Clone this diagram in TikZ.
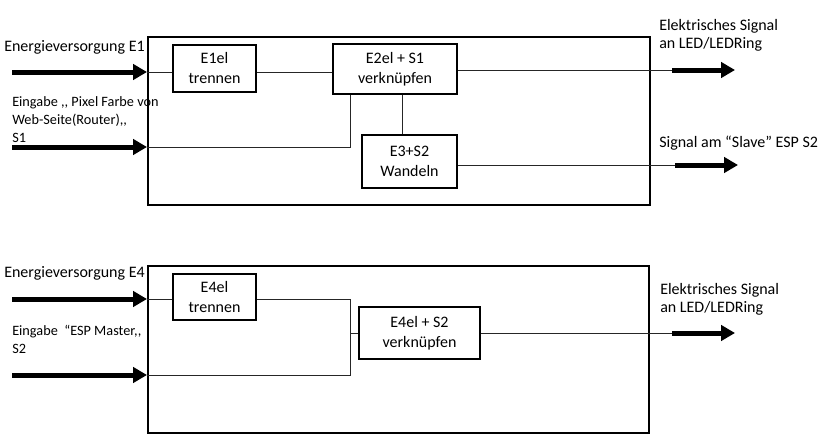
\documentclass[tikz,border=0pt]{standalone}
\usepackage{fontspec}
\setmainfont{Carlito}
\usetikzlibrary{positioning, arrows.meta, calc}

\begin{document}
\begin{tikzpicture}[x=0.75pt, y=-0.75pt,
    every node/.style={font=\fontsize{12pt}{13.5pt}\selectfont},
    sysbox/.style={draw, line width=1.5pt, minimum width=376.5pt, minimum height=126pt, inner sep=0pt},
    funcbox/.style={draw, line width=1.5pt, align=center, inner sep=0pt,
        font=\fontsize{12pt}{15pt}\selectfont},
    wire/.style={line width=0.75pt, black!85},
    bigarrow/.style={line width=3.75pt, -{Triangle[length=10.5pt, width=11.5pt]}},
    lbl/.style={anchor=west, align=left, inner sep=0pt},
    inlbl/.style={lbl, font=\fontsize{10.7pt}{13.5pt}\selectfont}]
    \useasboundingbox (0,0) rectangle (835,446);

    \node[sysbox] (sys1) at (399,121) {};
    \node[funcbox, minimum width=62.25pt, minimum height=35.25pt] (e1el) at (214.5,68.5) {E1el\\trennen};
    \node[funcbox, minimum width=93pt, minimum height=37.5pt] (e2el) at (395,69) {E2el + S1\\verknüpfen};
    \node[funcbox, minimum width=71.25pt, minimum height=39.75pt] (e3s2) at (409.5,161.5) {E3+S2\\Wandeln};
    \coordinate (in1) at (12,72);
    \coordinate (in2) at (12,147);
    \coordinate (j1) at (350,147);
    \coordinate (tap1) at (402,0);
    \coordinate (out1) at (672,70);
    \coordinate (out2) at (675,165);
    \draw[bigarrow] (in1) -- (in1 -| sys1.west);
    \draw[bigarrow] (in2) -- (in2 -| sys1.west);
    \draw[wire] (in1 -| sys1.west) -- (in1 -| e1el.west);
    \draw[wire] (e1el.east |- in1) -- (e2el.west |- in1);
    \draw[wire] (e2el.east |- out1) -- (out1);
    \draw[bigarrow] (out1) -- ++(63,0);
    \draw[wire] (in2 -| sys1.west) -- (j1) -- (j1 |- e2el.south);
    \draw[wire] (e2el.south -| tap1) -- (e3s2.north -| tap1);
    \draw[wire] (e3s2.east |- out2) -- (out2);
    \draw[bigarrow] (out2) -- ++(63,0);
    \node[lbl] (pwr1) at (4,47) {Energieversorgung E1};
    \node[inlbl] (inp1) at (12,119.5) {Eingabe ,{}, Pixel Farbe von\\Web-Seite(Router),{},\\S1};
    \node[lbl] (led1) at (659,35) {Elektrisches Signal\\an LED/LEDRing};
    \node[lbl] (slave) at (659,143) {Signal am “Slave” ESP S2};

    \node[sysbox, minimum width=375.75pt, minimum height=125.25pt] (sys2) at (398.5,349.5) {};
    \node[funcbox, minimum width=62.25pt, minimum height=34.5pt] (e4el) at (214.5,297) {E4el\\trennen};
    \node[funcbox, minimum width=90.75pt, minimum height=39pt] (e4s2) at (419.5,333) {E4el + S2\\verknüpfen};
    \coordinate (in3) at (12,299);
    \coordinate (in4) at (12,375);
    \coordinate (j2) at (350,375);
    \coordinate (out3) at (672,334);
    \draw[bigarrow] (in3) -- (in3 -| sys2.west);
    \draw[bigarrow] (in4) -- (in4 -| sys2.west);
    \draw[wire] (in3 -| sys2.west) -- (in3 -| e4el.west);
    \draw[wire] (e4el.east |- in3) -- (in3 -| j2) -- (j2) -- (in4 -| sys2.west);
    \draw[wire] (j2 |- e4s2.west) -- (e4s2.west);
    \draw[wire] (e4s2.east) -- (e4s2.east -| out3);
    \draw[bigarrow] (e4s2.east -| out3) -- ++(63,0);
    \node[lbl] (pwr2) at (4,273) {Energieversorgung E4};
    \node[inlbl] (inp2) at (12,339) {Eingabe\ \ “ESP Master,{},\\S2};
    \node[lbl] (led2) at (660,299) {Elektrisches Signal\\an LED/LEDRing};
\end{tikzpicture}
\end{document}
